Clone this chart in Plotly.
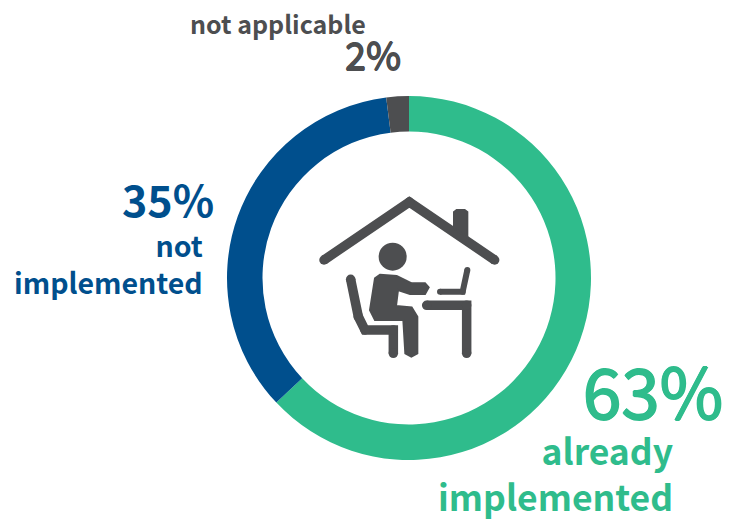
import plotly.graph_objects as go

W, H = 735, 520
categories = ["already implemented", "not implemented", "not applicable"]
values = [63, 35, 2]
colors = ["#2FBC8C", "#004F8D", "#4D4E50"]
GRAY = "#4D4E50"
FONT = "Noto Sans CJK SC"


def X(x):
    return x / W


def Y(y):
    return 1 - y / H


fig = go.Figure(go.Pie(
    labels=categories, values=values, sort=False, direction="clockwise", rotation=0,
    hole=0.805, textinfo="none", marker=dict(colors=colors, line=dict(width=0)),
    domain=dict(x=[X(227), X(591)], y=[Y(460), Y(96)]), showlegend=False,
))


def z(zx, zy):
    return X(300 + zx / 3), Y(180 + zy / 3)


def path(points, close=False):
    s = ""
    for i, p in enumerate(points):
        a, b = z(*p)
        s += ("M" if i == 0 else "L") + f"{a:.5f},{b:.5f} "
    return s + ("Z" if close else "")


shapes = []


def dot(zx, zy, r):
    x0, y1 = z(zx - r, zy - r)
    x1, y0 = z(zx + r, zy + r)
    shapes.append(dict(type="circle", xref="paper", yref="paper", x0=x0, x1=x1, y0=y0, y1=y1,
                       fillcolor=GRAY, line=dict(width=0)))


def stroke(points, width):
    shapes.append(dict(type="path", xref="paper", yref="paper", path=path(points),
                       line=dict(color=GRAY, width=width), fillcolor="rgba(0,0,0,0)"))
    for p in points:
        dot(p[0], p[1], width * 1.5)


def fill(points):
    shapes.append(dict(type="path", xref="paper", yref="paper", path=path(points, True),
                       line=dict(color=GRAY, width=2), fillcolor=GRAY))


stroke([(72, 240), (328, 66), (584, 240)], 9.5)
fill([(462, 96), (470, 90), (494, 90), (502, 96), (502, 172), (462, 145)])
dot(278, 230, 42)
fill([(240, 284), (290, 288), (335, 310), (375, 310), (386, 322), (375, 342), (330, 342),
      (294, 330), (288, 378), (335, 382), (352, 410), (352, 520), (334, 530), (316, 520),
      (310, 420), (225, 420), (210, 390), (225, 295)])
stroke([(152, 298), (175, 410), (195, 450), (280, 450), (280, 520)], 9.5)
stroke([(380, 376), (500, 376), (500, 520)], 9.5)
stroke([(420, 335), (488, 335), (502, 270)], 6)


def heavier(c, d):
    return f"{d}px 0 0 {c}, -{d}px 0 0 {c}, 0 {d}px 0 {c}, 0 -{d}px 0 {c}"


labels = [
    ("63%", 725, 389, 69, colors[0], 400, heavier(colors[0], 0.9)),
    ("already<br>implemented", 675, 472, 35.5, colors[0], 700, "none"),
    ("35%", 216, 198, 43, colors[1], 700, "none"),
    ("not<br>implemented", 205, 263, 28.5, colors[1], 700, "none"),
    ("not applicable", 368, 23, 25, colors[2], 700, "none"),
    ("2%", 403, 54, 38, colors[2], 400, heavier(colors[2], 0.6)),
]
annotations = [
    dict(text=t, x=X(x), y=Y(y), xref="paper", yref="paper", xanchor="right", yanchor="middle",
         align="right", showarrow=False,
         font=dict(family=FONT, size=s, color=c, weight=w, shadow=sh))
    for t, x, y, s, c, w, sh in labels
]

fig.update_layout(
    width=W, height=H, margin=dict(l=0, r=0, t=0, b=0),
    paper_bgcolor="white", plot_bgcolor="white",
    shapes=shapes, annotations=annotations,
)
fig.write_html("out.html", config=dict(displayModeBar=False),
               post_script="document.body.style.margin='0';document.documentElement.style.overflow='hidden';")
